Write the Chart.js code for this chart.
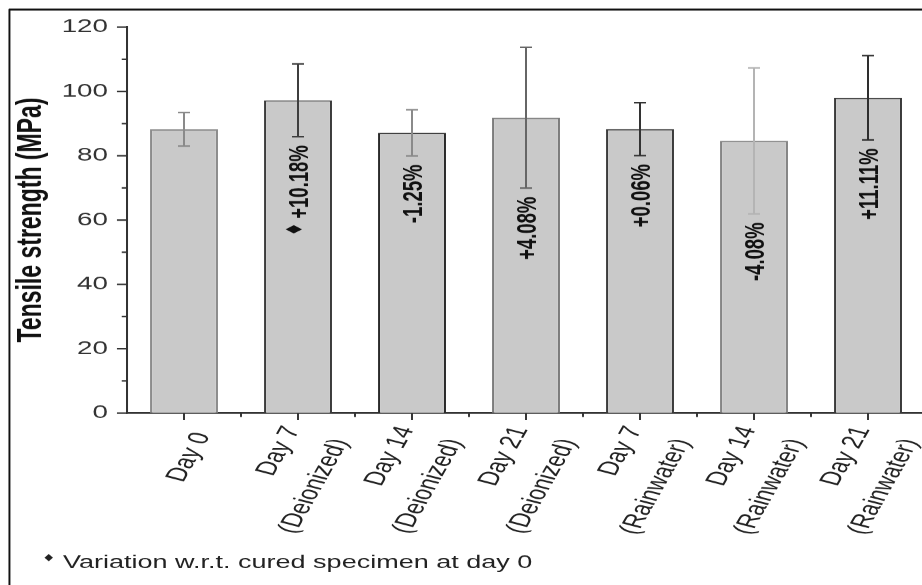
<!DOCTYPE html>
<html>
<head>
<meta charset="utf-8">
<script src="https://cdn.jsdelivr.net/npm/chart.js@4.4.1/dist/chart.umd.min.js"></script>
<style>
  html, body { margin: 0; padding: 0; width: 922px; height: 585px; overflow: hidden; background: #fff; }
  /* the figure is laid out on a narrower sheet and widened 1.5x */
  #wrap { position: absolute; left: 0; top: 0; width: 630px; height: 600px;
          transform: scaleX(1.5); transform-origin: 0 0; }
</style>
</head>
<body>
<div id="wrap"><canvas id="c"></canvas></div>
<script>
// ---- data ----
const categories = [
  ['Day 0'],
  ['Day 7', '(Deionized)'],
  ['Day 14', '(Deionized)'],
  ['Day 21', '(Deionized)'],
  ['Day 7', '(Rainwater)'],
  ['Day 14', '(Rainwater)'],
  ['Day 21', '(Rainwater)']
];
const meanStrength = [88.2, 97.2, 87.1, 91.8, 88.25, 84.6, 98.0];   // MPa
const stdDev       = [5.2, 11.3, 7.2, 21.9, 8.2, 22.7, 13.1];        // MPa
const variationLabels = ['', '+10.18%', '-1.25%', '+4.08%', '+0.06%', '-4.08%', '+11.11%'];
const markedLabel = 1;   // label carrying the footnote marker
const footnoteText = 'Variation w.r.t. cured specimen at day 0';
const yTitle = 'Tensile strength (MPa)';

// ---- styles ----
const FONT = "'Liberation Sans', Arial, Helvetica, sans-serif";
const barBorder = ['#8c8c8c', '#3c3c3c', '#2a2a2a', '#7c7c7c', '#3c3c3c', '#858585', '#3a3a3a'];
const errColor  = ['#8a8a8a', '#3e3e3e', '#8a8a8a', '#666666', '#333333', '#b4b4b4', '#2e2e2e'];
const AXIS = '#333333';

const decorations = {
  id: 'decorations',
  afterDatasetsDraw(chart) {
    const { ctx, scales: { x, y }, chartArea } = chart;
    ctx.save();

    // error bars and variation labels
    meanStrength.forEach((m, i) => {
      const px = x.getPixelForValue(i);
      const yt = y.getPixelForValue(m + stdDev[i]);
      const yb = y.getPixelForValue(m - stdDev[i]);
      ctx.strokeStyle = errColor[i];
      ctx.lineWidth = 1.35;
      ctx.beginPath(); ctx.moveTo(px, yt); ctx.lineTo(px, yb); ctx.stroke();
      ctx.lineWidth = 1.5;
      ctx.beginPath();
      ctx.moveTo(px - 4, yt); ctx.lineTo(px + 4, yt);
      ctx.moveTo(px - 4, yb); ctx.lineTo(px + 4, yb);
      ctx.stroke();

      const txt = variationLabels[i];
      if (txt) {
        ctx.save();
        ctx.font = 'bold 18.5px ' + FONT;
        const w = ctx.measureText(txt).width;
        ctx.translate(px, yb + 8.5 + w / 2);
        ctx.rotate(-Math.PI / 2);
        ctx.fillStyle = '#111';
        ctx.textAlign = 'center';
        ctx.textBaseline = 'alphabetic';
        ctx.fillText(txt, 0, 6.6);
        if (i === markedLabel) {
          ctx.font = '15px "DejaVu Sans"';
          ctx.textBaseline = 'middle';
          ctx.fillText('\u2666', -w / 2 - 10.5, -1.5);
        }
        ctx.restore();
      }
    });

    // axis ticks (major + minor)
    ctx.strokeStyle = AXIS;
    ctx.lineWidth = 1.5;
    const yt = y.ticks.map(t => t.value);
    ctx.beginPath();
    yt.forEach((v, k) => {
      const py = y.getPixelForValue(v);
      ctx.moveTo(chartArea.left - 6.7, py); ctx.lineTo(chartArea.left, py);
      if (k < yt.length - 1) {
        const pm = y.getPixelForValue((v + yt[k + 1]) / 2);
        ctx.moveTo(chartArea.left - 3.5, pm); ctx.lineTo(chartArea.left, pm);
      }
    });
    ctx.stroke();
    ctx.lineWidth = 1.3;
    ctx.beginPath();
    categories.forEach((c, i) => {
      const px = x.getPixelForValue(i);
      ctx.moveTo(px, chartArea.bottom); ctx.lineTo(px, chartArea.bottom + 7);
      if (i < categories.length - 1) {
        const pm = (px + x.getPixelForValue(i + 1)) / 2;
        ctx.moveTo(pm, chartArea.bottom); ctx.lineTo(pm, chartArea.bottom + 4);
      }
    });
    ctx.stroke();

    // slanted category labels
    const ang = 69 * Math.PI / 180;
    const lh = 34.5;
    ctx.font = '19.5px ' + FONT;
    ctx.fillStyle = '#222';
    ctx.textAlign = 'right';
    ctx.textBaseline = 'middle';
    categories.forEach((lines, i) => {
      const ex = x.getPixelForValue(i) + 12.5;
      const ey = chartArea.bottom + 20.5;
      lines.forEach((t, k) => {
        const off = (k - (lines.length - 1) / 2) * lh;
        ctx.save();
        ctx.translate(ex + off * Math.sin(ang), ey + off * Math.cos(ang));
        ctx.rotate(-ang);
        ctx.fillText(t, 0, 0);
        ctx.restore();
      });
    });
    ctx.restore();
  },
  afterDraw(chart) {
    const { ctx, width, height } = chart;
    ctx.save();
    // outer frame
    ctx.strokeStyle = '#111';
    ctx.lineWidth = 2;
    ctx.beginPath(); ctx.moveTo(6, 9.5); ctx.lineTo(width, 9.5); ctx.stroke();
    ctx.lineWidth = 1.3;
    ctx.beginPath(); ctx.moveTo(6.3, 9); ctx.lineTo(6.3, height); ctx.stroke();
    // footnote
    ctx.fillStyle = '#222';
    ctx.font = '18px ' + FONT;
    ctx.textAlign = 'left';
    ctx.textBaseline = 'alphabetic';
    ctx.fillText(footnoteText, 42, 568);
    ctx.font = '10px "DejaVu Sans"';
    ctx.textAlign = 'center';
    ctx.textBaseline = 'middle';
    ctx.fillText('\u2666', 32.5, 558.5);
    ctx.restore();
  }
};

new Chart(document.getElementById('c'), {
  type: 'bar',
  data: {
    labels: categories,
    datasets: [{
      data: meanStrength,
      backgroundColor: '#c9c9c9',
      borderColor: barBorder,
      borderWidth: 1.4,
      barPercentage: 0.596,
      categoryPercentage: 1
    }]
  },
  options: {
    responsive: true,
    maintainAspectRatio: false,
    devicePixelRatio: 1.5,
    animation: false,
    layout: { padding: { top: 27, left: 0, right: 13.33, bottom: 0 } },
    plugins: { legend: { display: false }, tooltip: { enabled: false } },
    scales: {
      x: {
        type: 'category',
        offset: true,
        grid: { display: false, drawTicks: false },
        ticks: { display: false },
        border: { display: true, color: AXIS, width: 1.8 },
        afterFit(s) { s.height = 187; }
      },
      y: {
        min: 0, max: 120,
        grid: { display: false, drawTicks: false },
        border: { display: true, color: AXIS, width: 1.35 },
        ticks: { stepSize: 20, padding: 12.7, color: '#333', font: { family: FONT, size: 18.5 } },
        title: {
          display: true, text: yTitle, color: '#111',
          font: { family: FONT, size: 23, weight: 'bold' },
          padding: { top: 7.2, bottom: 0 }
        },
        afterFit(s) { s.width = 84.67; }
      }
    }
  },
  plugins: [decorations]
});
</script>
</body>
</html>
